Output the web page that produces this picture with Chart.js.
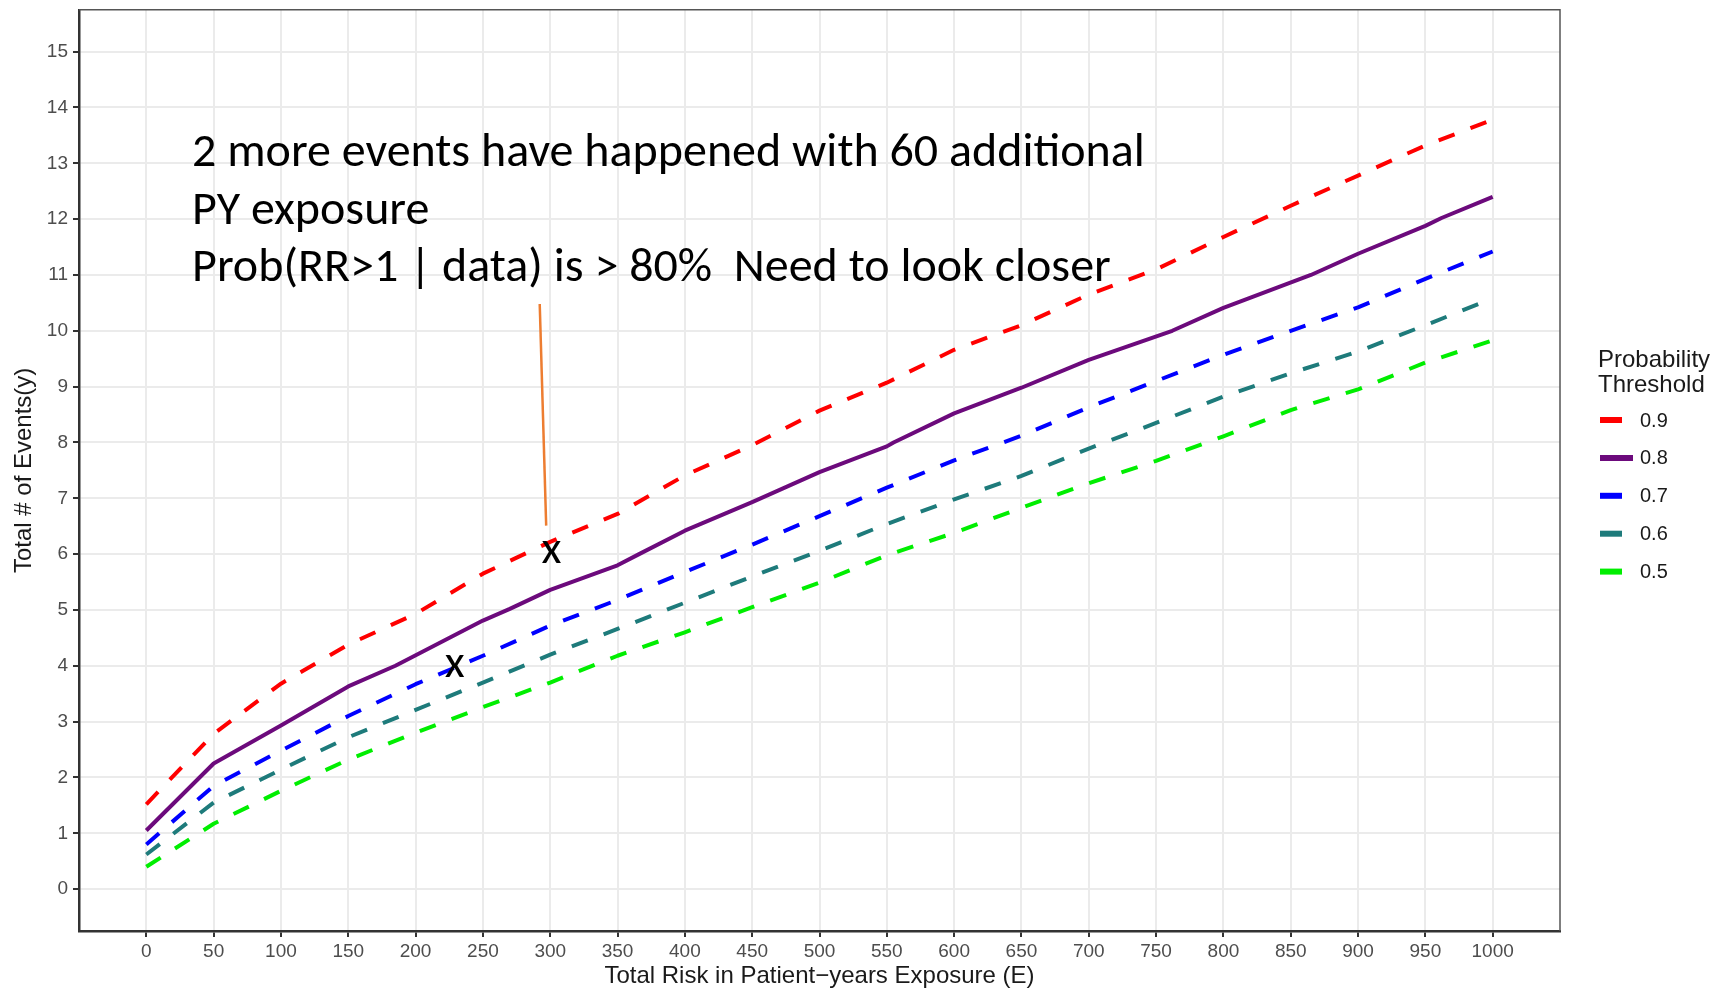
<!DOCTYPE html>
<html lang="en">
<head>
<meta charset="UTF-8">
<title>Probability Threshold</title>
<script src="https://cdn.jsdelivr.net/npm/chart.js"></script>
<style>
  html, body { margin: 0; padding: 0; background: #fff; }
  #wrap { width: 1727px; height: 991px; position: relative; }
</style>
</head>
<body>
<div id="wrap"><canvas id="myChart"></canvas></div>
<script>
// exposure grid used by the dashed threshold curves
const exposure = [0, 50, 100, 150, 200, 250, 300, 350, 400, 450, 500,
                  550, 600, 650, 700, 750, 800, 850, 900, 950, 1000];
const thr09 = [1.52, 2.78, 3.68, 4.38, 4.93, 5.65, 6.22, 6.72, 7.41, 7.95, 8.57,
               9.07, 9.66, 10.1, 10.65, 11.1, 11.68, 12.24, 12.78, 13.32, 13.78];
const thr07 = [0.8, 1.85, 2.48, 3.1, 3.67, 4.18, 4.72, 5.18, 5.68, 6.17, 6.68,
               7.19, 7.68, 8.12, 8.63, 9.1, 9.57, 10.0, 10.42, 10.93, 11.42];
const thr06 = [0.62, 1.55, 2.14, 2.72, 3.21, 3.7, 4.2, 4.66, 5.13, 5.6, 6.06,
               6.54, 6.98, 7.4, 7.89, 8.35, 8.82, 9.24, 9.63, 10.1, 10.58];
const thr05 = [0.4, 1.17, 1.76, 2.32, 2.8, 3.26, 3.7, 4.18, 4.6, 5.05, 5.49,
               5.98, 6.38, 6.83, 7.27, 7.67, 8.11, 8.58, 8.95, 9.43, 9.83];

// the solid 0.8 curve shows a few extra kinks
const exposure08 = [0, 50, 100, 150, 185, 250, 270, 300, 350, 366, 400, 450,
                    500, 550, 555, 600, 650, 700, 762, 800, 865, 900, 950, 962, 1000];
const thr08 = [1.05, 2.25, 2.93, 3.63, 4.0, 4.81, 5.02, 5.36, 5.8, 6.0, 6.42, 6.93,
               7.47, 7.93, 8.0, 8.52, 8.98, 9.48, 10.0, 10.41, 11.0, 11.38, 11.88, 12.02, 12.4];

const xTicks = [0, 50, 100, 150, 200, 250, 300, 350, 400, 450, 500,
                550, 600, 650, 700, 750, 800, 850, 900, 950, 1000];
const yTicks = [0, 1, 2, 3, 4, 5, 6, 7, 8, 9, 10, 11, 12, 13, 14, 15];

// slide annotation (data coordinates)
const noteLines = [
  '2 more events have happened with 60 additional',
  'PY exposure',
  'Prob(RR>1 | data) is > 80%  Need to look closer'
];
const noteAnchor = [34, 12.95];
const pointerLine = [[292.2, 10.48], [297.0, 6.51]];
const observed = [[301, 6.06], [229, 4.01]];

const axisFont = '"Liberation Sans", Arial, sans-serif';
const noteFont = 'Carlito, Calibri, Lato, sans-serif';

function pts(xs, ys) {
  return ys.map((y, i) => ({ x: xs[i], y: y }));
}

const series = [
  { label: '0.9', data: pts(exposure, thr09), borderColor: '#FF0000', borderDash: [17, 17] },
  { label: '0.8', data: pts(exposure08, thr08), borderColor: '#6C0A7C', borderDash: [] },
  { label: '0.7', data: pts(exposure, thr07), borderColor: '#0000FF', borderDash: [17, 17] },
  { label: '0.6', data: pts(exposure, thr06), borderColor: '#1E7B7B', borderDash: [17, 17] },
  { label: '0.5', data: pts(exposure, thr05), borderColor: '#00EE00', borderDash: [17, 17] }
];

const panelBorder = {
  id: 'panelBorder',
  afterDatasetsDraw(chart) {
    const { ctx, chartArea: a } = chart;
    ctx.save();
    ctx.strokeStyle = '#555';
    ctx.lineWidth = 1.5;
    ctx.beginPath();
    ctx.moveTo(a.left, a.top);
    ctx.lineTo(a.right, a.top);
    ctx.lineTo(a.right, a.bottom);
    ctx.stroke();
    ctx.restore();
  }
};

const notes = {
  id: 'notes',
  afterDatasetsDraw(chart) {
    const ctx = chart.ctx;
    const sx = chart.scales.x, sy = chart.scales.y;
    ctx.save();
    ctx.fillStyle = '#000';
    ctx.font = '48px ' + noteFont;
    ctx.textBaseline = 'alphabetic';
    const x0 = sx.getPixelForValue(noteAnchor[0]);
    const y0 = sy.getPixelForValue(noteAnchor[1]);
    noteLines.forEach((t, i) => ctx.fillText(t, x0, y0 + i * 57.5));

    ctx.strokeStyle = '#ED7D31';
    ctx.lineWidth = 2.5;
    ctx.beginPath();
    ctx.moveTo(sx.getPixelForValue(pointerLine[0][0]), sy.getPixelForValue(pointerLine[0][1]));
    ctx.lineTo(sx.getPixelForValue(pointerLine[1][0]), sy.getPixelForValue(pointerLine[1][1]));
    ctx.stroke();

    ctx.font = '46px ' + noteFont;
    ctx.textAlign = 'center';
    observed.forEach(p => {
      ctx.fillText('x', sx.getPixelForValue(p[0]), sy.getPixelForValue(p[1]) + 12);
    });
    ctx.restore();
  }
};

const sideLegend = {
  id: 'sideLegend',
  afterDraw(chart) {
    const ctx = chart.ctx;
    const left = chart.chartArea.right + 38;
    ctx.save();
    ctx.fillStyle = '#1a1a1a';
    ctx.font = '24px ' + axisFont;
    ctx.textBaseline = 'alphabetic';
    ctx.fillText('Probability', left, 367);
    ctx.fillText('Threshold', left, 392);
    chart.data.datasets.forEach((ds, i) => {
      const y = 420 + i * 37.9;
      ctx.strokeStyle = ds.borderColor;
      ctx.lineWidth = 6;
      ctx.setLineDash(ds.borderDash.length ? [22, 22] : []);
      ctx.beginPath();
      ctx.moveTo(left + 2, y);
      ctx.lineTo(left + 35, y);
      ctx.stroke();
      ctx.setLineDash([]);
      ctx.font = '20px ' + axisFont;
      ctx.textBaseline = 'middle';
      ctx.fillText(ds.label, left + 42, y + 1);
    });
    ctx.restore();
  }
};

const ctx = document.getElementById('myChart').getContext('2d');
new Chart(ctx, {
  type: 'line',
  data: {
    datasets: series.map(s => Object.assign({
      borderWidth: 4,
      pointRadius: 0,
      fill: false,
      tension: 0,
      borderCapStyle: 'butt',
      borderJoinStyle: 'round'
    }, s))
  },
  options: {
    responsive: true,
    maintainAspectRatio: false,
    animation: false,
    layout: { padding: { left: 0, top: 8, right: 167, bottom: 0 } },
    plugins: { legend: { display: false }, tooltip: { enabled: false } },
    scales: {
      x: {
        type: 'linear',
        min: -50,
        max: 1050,
        afterBuildTicks: s => { s.ticks = xTicks.map(v => ({ value: v })); },
        afterFit: s => { s.height = 60; },
        grid: { color: '#EBEBEB', lineWidth: 2, tickColor: '#333', tickWidth: 2, tickLength: 6 },
        border: { display: true, color: '#333', width: 2.5 },
        ticks: {
          color: '#4D4D4D', font: { family: axisFont, size: 19 }, padding: 3, maxRotation: 0,
          callback: v => String(v)
        },
        title: {
          display: true,
          text: 'Total Risk in Patient\u2212years Exposure (E)',
          color: '#1a1a1a',
          font: { family: axisFont, size: 24 },
          padding: { top: 0, bottom: 0 }
        }
      },
      y: {
        type: 'linear',
        min: -0.75,
        max: 15.75,
        afterBuildTicks: s => { s.ticks = yTicks.map(v => ({ value: v })); },
        afterFit: s => { s.width = 79; },
        grid: { color: '#EBEBEB', lineWidth: 2, tickColor: '#333', tickWidth: 2, tickLength: 6 },
        border: { display: true, color: '#333', width: 2.5 },
        ticks: {
          color: '#4D4D4D', font: { family: axisFont, size: 19, lineHeight: 0.5 }, padding: 5,
          callback: v => String(v)
        },
        title: {
          display: true,
          text: 'Total # of Events(y)',
          color: '#1a1a1a',
          font: { family: axisFont, size: 24 },
          padding: { top: 9.6, bottom: 0 }
        }
      }
    }
  },
  plugins: [panelBorder, notes, sideLegend]
});
</script>
</body>
</html>
